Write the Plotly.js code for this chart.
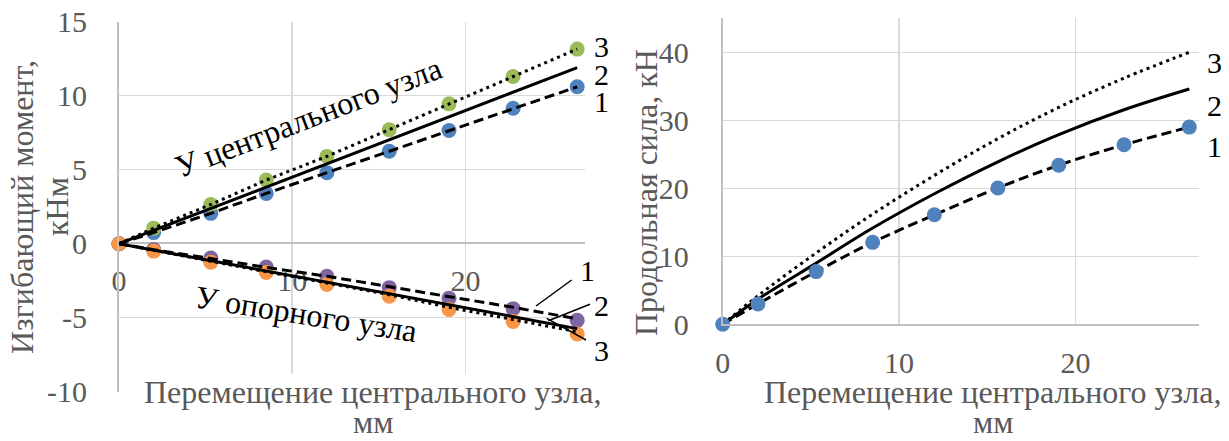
<!DOCTYPE html>
<html>
<head>
<meta charset="utf-8">
<script src="https://cdn.plot.ly/plotly-3.0.1.min.js"></script>
<style>
  html, body { margin: 0; padding: 0; background: #fff; }
  #chart { width: 1229px; height: 441px; }
</style>
</head>
<body>
<div id="chart"></div>
<script>
// ---- Data ----
const xPts = [0, 2.0, 5.3, 8.5, 12.0, 15.6, 19.05, 22.75, 26.45];

// Left: bending moment, kN·m
const momCentral1 = [0, 0.75, 2.05, 3.4, 4.8, 6.25, 7.65, 9.15, 10.6];     // blue markers / dashed
const momCentral2 = [0, 0.9, 2.39, 3.83, 5.4, 7.02, 8.57, 10.24, 11.9];    // solid
const momCentral3 = [0, 1.05, 2.65, 4.3, 5.9, 7.7, 9.45, 11.3, 13.15];     // green markers / dotted
const momSupport1 = [0, -0.4, -0.97, -1.58, -2.2, -2.97, -3.68, -4.39, -5.18]; // purple markers
const momSupport1Line = [0, -0.4, -1.0, -1.6, -2.2, -2.9, -3.6, -4.3, -5.07];  // dashed
const momSupport2 = [0, -0.43, -1.15, -1.84, -2.6, -3.38, -4.13, -4.93, -5.74]; // solid
const momSupport3 = [0, -0.5, -1.25, -1.95, -2.75, -3.55, -4.45, -5.25, -6.1]; // orange markers
const momSupport3Line = [0, -0.45, -1.2, -1.9, -2.65, -3.45, -4.3, -5.1, -5.95]; // dotted

// Right: axial force, kN
const force1 = [0, 3.0, 7.75, 12.05, 16.1, 20.05, 23.4, 26.4, 29.0];   // blue markers / dashed
const force2 = [0, 3.7, 9.0, 14.15, 19.2, 23.9, 27.9, 31.55, 34.6];    // solid
const force3 = [0, 4.2, 10.5, 16.2, 21.9, 27.3, 31.9, 36.2, 40.0];     // dotted

const xTickVals = [0, 10, 20];
const xTickText = ['0', '10', '20'];
const leftYTicks = [-10, -5, 0, 5, 10, 15];
const leftYTickText = ['-10', '-5', '0', '5', '10', '15'];
const rightYTicks = [0, 10, 20, 30, 40];
const rightYTickText = ['0', '10', '20', '30', '40'];

const xTitle = 'Перемещение центрального узла,';
const xTitle2 = 'мм';
const leftYTitle = 'Изгибающий момент,';
const leftYTitle2 = 'кНм';
const rightYTitle = 'Продольная сила, кН';
const curveLabels = ['1', '2', '3'];

// ---- Styling ----
const FONT = 'Liberation Serif, Times New Roman, serif';
const GREY = '#595959';
const GRID = '#d9d9d9';
const AXL = '#bfbfbf';
const BLUE = '#4F81BD', GREEN = '#9BBB59', PURPLE = '#8064A2', ORANGE = '#F79646';
const W = 1229, H = 441;
const px = v => v / W;
const py = v => 1 - v / H;

function markers(x, y, color, xa, ya) {
  return {x, y, xaxis: xa, yaxis: ya, type: 'scatter', mode: 'markers', cliponaxis: false,
    marker: {color, size: 15, line: {width: 0}}, hoverinfo: 'skip'};
}
function line(x, y, dash, xa, ya, shape) {
  return {x, y, xaxis: xa, yaxis: ya, type: 'scatter', mode: 'lines',
    line: {color: '#000', width: 3, dash, shape: shape || 'linear', smoothing: 1}, hoverinfo: 'skip'};
}

const DASH = '10px,5px';
const DOT = '3px,4px';

const traces = [
  markers(xPts, momCentral1, BLUE, 'x', 'y'),
  markers(xPts, momCentral3, GREEN, 'x', 'y'),
  markers(xPts, momSupport1, PURPLE, 'x', 'y'),
  markers(xPts, momSupport3, ORANGE, 'x', 'y'),
  line(xPts, momCentral1, DASH, 'x', 'y'),
  line(xPts, momCentral2, 'solid', 'x', 'y'),
  line(xPts, momCentral3, DOT, 'x', 'y'),
  line(xPts, momSupport1Line, DASH, 'x', 'y'),
  line(xPts, momSupport2, 'solid', 'x', 'y'),
  line(xPts, momSupport3Line, DOT, 'x', 'y'),

  line(xPts, force1, DASH, 'x2', 'y2', 'spline'),
  line(xPts, force2, 'solid', 'x2', 'y2', 'spline'),
  line(xPts, force3, DOT, 'x2', 'y2', 'spline'),
  markers(xPts, force1, BLUE, 'x2', 'y2'),
];

const tickFont = {family: FONT, size: 30, color: GREY};

function ann(text, x, y, opts) {
  return Object.assign({text, x, y, xref: 'paper', yref: 'paper', showarrow: false,
    xanchor: 'center', yanchor: 'middle', font: {family: FONT, size: 30, color: '#000'}}, opts || {});
}
function seg(x0, y0, x1, y1) {
  return {type: 'line', xref: 'paper', yref: 'paper', x0: px(x0), y0: py(y0), x1: px(x1), y1: py(y1),
    line: {color: '#000', width: 1.5}};
}
const titleFont = {family: FONT, size: 32, color: GREY};

const layout = {
  width: W, height: H,
  margin: {l: 0, r: 0, t: 0, b: 0, pad: 0},
  paper_bgcolor: '#fff', plot_bgcolor: '#fff',
  showlegend: false,
  hovermode: false,
  font: {family: FONT},
  xaxis: {
    domain: [px(119), px(585)], range: [0, 26.9],
    anchor: 'free', position: py(243.3),
    tickvals: xTickVals, ticktext: xTickText, ticks: '', tickfont: tickFont, ticklabelstandoff: 11,
    showgrid: true, gridcolor: GRID, gridwidth: 1.5,
    showline: true, linecolor: AXL, linewidth: 2,
    zeroline: false, layer: 'below traces', fixedrange: true
  },
  yaxis: {
    domain: [py(391.7), py(21.7)], range: [-10, 15],
    anchor: 'x', tickvals: leftYTicks, ticktext: leftYTickText, ticks: '', tickfont: tickFont, ticklabelstandoff: 24,
    showgrid: true, gridcolor: GRID, gridwidth: 1.5,
    showline: true, linecolor: AXL, linewidth: 2,
    zeroline: false, fixedrange: true
  },
  xaxis2: {
    domain: [px(722.7), px(1199)], range: [0, 27.0],
    anchor: 'y2', tickvals: xTickVals, ticktext: xTickText, ticks: '', tickfont: tickFont, ticklabelstandoff: 11,
    showgrid: true, gridcolor: GRID, gridwidth: 1.5,
    showline: true, linecolor: AXL, linewidth: 2,
    zeroline: false, fixedrange: true
  },
  yaxis2: {
    domain: [py(324.3), py(18.3)], range: [0, 45],
    anchor: 'x2', tickvals: rightYTicks, ticktext: rightYTickText, ticks: '', tickfont: tickFont, ticklabelstandoff: 26,
    showgrid: true, gridcolor: GRID, gridwidth: 1.5,
    showline: true, linecolor: AXL, linewidth: 2,
    zeroline: false, fixedrange: true
  },
  annotations: [
    // axis titles
    ann(xTitle, px(372.5), py(392), {font: titleFont, bgcolor: '#fff', borderpad: 0}),
    ann(xTitle2, px(373), py(422), {font: titleFont}),
    ann(xTitle, px(992.5), py(392), {font: titleFont}),
    ann(xTitle2, px(993), py(422), {font: titleFont}),
    ann(leftYTitle, px(22), py(207), {textangle: -90, font: titleFont}),
    ann(leftYTitle2, px(57), py(207), {textangle: -90, font: titleFont}),
    ann(rightYTitle, px(646), py(193), {textangle: -90, font: titleFont}),
    // rotated group labels (data coordinates)
    {text: 'У центрального узла', x: 10.96, y: 8.53, xref: 'x', yref: 'y', showarrow: false,
     textangle: -21, xanchor: 'center', yanchor: 'middle', font: {family: FONT, size: 32, color: '#000'}},
    {text: 'У опорного узла', x: 10.82, y: -4.78, xref: 'x', yref: 'y', showarrow: false,
     textangle: 9, xanchor: 'center', yanchor: 'middle', font: {family: FONT, size: 32, color: '#000'}},
    // curve numbers, left upper
    ann(curveLabels[2], px(601), py(47)),
    ann(curveLabels[1], px(601), py(75)),
    ann(curveLabels[0], px(601), py(101)),
    // left lower
    ann(curveLabels[0], px(587), py(270)),
    ann(curveLabels[1], px(601), py(305)),
    ann(curveLabels[2], px(601), py(350)),
    // right
    ann(curveLabels[2], px(1214), py(62)),
    ann(curveLabels[1], px(1214), py(105)),
    ann(curveLabels[0], px(1214), py(147)),
  ],
  shapes: [
    seg(571.7, 280, 536, 306),
    seg(590, 304.3, 548.3, 320.7),
    seg(586, 340, 546.7, 318.3),
  ]
};

Plotly.newPlot('chart', traces, layout, {displayModeBar: false, staticPlot: true});
</script>
</body>
</html>
